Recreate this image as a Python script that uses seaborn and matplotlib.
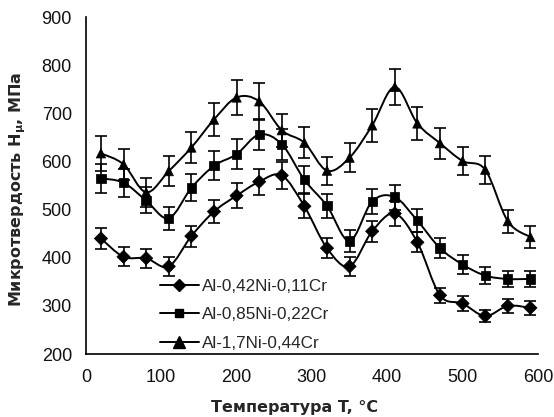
import numpy as np
import pandas as pd
import matplotlib
matplotlib.use("Agg")
import matplotlib.pyplot as plt
from matplotlib.path import Path
from matplotlib.patches import PathPatch
from matplotlib.lines import Line2D
import seaborn as sns

temps = [20, 50, 80, 110, 140, 170, 200, 230, 260, 290, 320, 350, 380, 410, 440, 470, 500, 530, 560, 590]

s1_name = "Al-0,42Ni-0,11Cr"
s1_vals = [440, 402, 399, 382, 445, 496, 529, 558, 571, 507, 420, 382, 455, 492, 432, 322, 305, 279, 300, 296]
s1_err = [22, 20, 20, 19, 22, 24, 26, 27, 28, 25, 21, 19, 22, 25, 21, 16, 15, 13, 15, 15]

s2_name = "Al-0,85Ni-0,22Cr"
s2_vals = [565, 556, 519, 482, 545, 591, 615, 656, 636, 562, 508, 435, 517, 526, 477, 420, 386, 363, 356, 356]
s2_err = [30, 29, 27, 24, 28, 30, 31, 32, 32, 28, 25, 22, 26, 26, 24, 21, 19, 18, 17, 17]

s3_name = "Al-1,7Ni-0,44Cr"
s3_vals = [617, 594, 536, 580, 629, 687, 733, 725, 665, 639, 581, 608, 675, 755, 679, 638, 601, 583, 476, 443]
s3_err = [37, 33, 30, 31, 32, 35, 37, 38, 34, 32, 29, 30, 34, 37, 34, 32, 30, 29, 24, 22]

xticks = [0, 100, 200, 300, 400, 500, 600]
yticks = [200, 300, 400, 500, 600, 700, 800, 900]

series = [(s1_name, s1_vals, s1_err, "D", 6.0),
          (s2_name, s2_vals, s2_err, "s", 5.5),
          (s3_name, s3_vals, s3_err, "^", 8.0)]

sns.set_style("white")
plt.rcParams['font.family'] = ['Liberation Sans', 'DejaVu Sans']

fig = plt.figure(figsize=(5.54, 4.17), dpi=100)
ax = fig.add_axes([0.155, 0.151, 0.816, 0.808])

rows = []
for name, vals, err, m, ms in series:
    for t, v in zip(temps, vals):
        rows.append({"T": t, "H": v, "series": name})
df = pd.DataFrame(rows)


def smooth_path(x, y):
    pts = np.column_stack([x, y]).astype(float)
    n = len(pts)
    verts = [pts[0]]
    codes = [Path.MOVETO]
    for i in range(n - 1):
        p0 = pts[i - 1] if i > 0 else pts[i]
        p1 = pts[i]
        p2 = pts[i + 1]
        p3 = pts[i + 2] if i + 2 < n else pts[i + 1]
        c1 = p1 + (p2 - p0) / 6.0
        c2 = p2 - (p3 - p1) / 6.0
        verts += [c1, c2, p2]
        codes += [Path.CURVE4] * 3
    return Path(verts, codes)


handles = []
for name, vals, err, m, ms in series:
    ax.add_patch(PathPatch(smooth_path(temps, vals), facecolor="none",
                           edgecolor="black", lw=1.4, zorder=2))
    ax.errorbar(temps, vals, yerr=err, fmt="none", ecolor="black",
                elinewidth=1.2, capsize=4, capthick=1.2, zorder=3)
    handles.append(Line2D([], [], color="black", lw=1.4, marker=m,
                          markersize=ms, markerfacecolor="black",
                          markeredgecolor="black"))

sns.scatterplot(data=df, x="T", y="H", style="series",
                markers={s1_name: "D", s2_name: "s", s3_name: "^"},
                color="black", edgecolor="black", s=45, legend=False,
                ax=ax, zorder=4)

ax.set_xlim(0, 600)
ax.set_ylim(200, 900)
ax.set_xticks(xticks)
ax.set_yticks(yticks)
ax.tick_params(axis="both", labelsize=13, length=3, width=1, color="black",
               direction="out", pad=7, labelcolor="#111111")
ax.tick_params(axis="x", pad=8)
for sp in ["top", "right"]:
    ax.spines[sp].set_visible(False)
for sp in ["left", "bottom"]:
    ax.spines[sp].set_color("black")
    ax.spines[sp].set_linewidth(1.2)

ax.set_xlabel("Температура T, °C", fontsize=11.5, fontweight="bold",
              family=["DejaVu Sans"])
ax.set_ylabel("Микротвердость H$_\\mathbf{\\mu}$, МПа", fontsize=11.5,
              fontweight="bold", family=["DejaVu Sans"])
ax.xaxis.set_label_coords(0.462, -0.135)
ax.yaxis.set_label_coords(-0.127, 0.49)

leg = ax.legend(handles, [s1_name, s2_name, s3_name], loc="lower left",
                bbox_to_anchor=(0.163, 0.01), frameon=False, fontsize=12.3,
                handlelength=2.3, handletextpad=0.2, labelspacing=0.78,
                borderpad=0, borderaxespad=0)

fig.savefig("out.png", dpi=100)
